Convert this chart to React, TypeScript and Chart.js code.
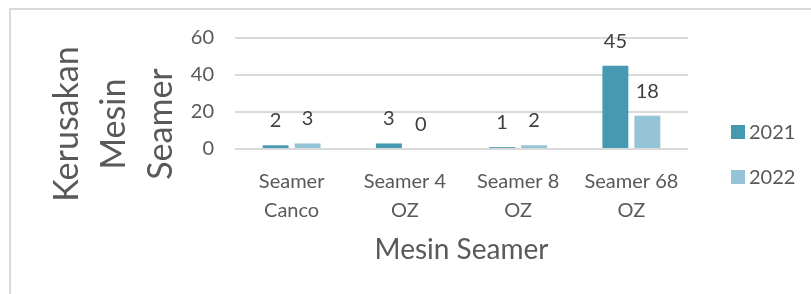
import React, { useEffect, useRef } from "react";
import { Chart, registerables } from "chart.js";

Chart.register(...registerables);

const categories: string[][] = [
  ["Seamer", "Canco"],
  ["Seamer 4", "OZ"],
  ["Seamer 8", "OZ"],
  ["Seamer 68", "OZ"],
];
const seriesNames = ["2021", "2022"];
const values2021 = [2, 3, 1, 45];
const values2022 = [3, 0, 2, 18];
const yTicks = [0, 20, 40, 60];
const yTitleLines = ["Kerusakan", "Mesin", "Seamer"];
const xTitle = "Mesin Seamer";

const COLORS = ["#4599b1", "#94c4d5"];
const FONT = "Lato";

const valueLabels = {
  id: "valueLabels",
  afterDatasetsDraw(chart: any) {
    const ctx = chart.ctx;
    ctx.save();
    ctx.font = `20px ${FONT}`;
    ctx.fillStyle = "#404040";
    ctx.textAlign = "center";
    ctx.textBaseline = "alphabetic";
    chart.data.datasets.forEach((ds: any, i: number) => {
      const meta = chart.getDatasetMeta(i);
      meta.data.forEach((bar: any, j: number) => {
        ctx.fillText(String(ds.data[j]), bar.x, bar.y - 18);
      });
    });
    ctx.restore();
  },
};

const yTitlePlugin = {
  id: "yTitlePlugin",
  afterDraw(chart: any) {
    const ctx = chart.ctx;
    const area = chart.chartArea;
    ctx.save();
    ctx.font = `34px ${FONT}`;
    ctx.fillStyle = "#595959";
    ctx.textAlign = "center";
    ctx.textBaseline = "alphabetic";
    const cy = area.bottom - 25;
    yTitleLines.forEach((line, i) => {
      ctx.save();
      ctx.translate(78 + i * 47, cy);
      ctx.rotate(-Math.PI / 2);
      ctx.fillText(line, 0, 0);
      ctx.restore();
    });
    ctx.restore();
  },
};

const legendPlugin = {
  id: "sideLegend",
  afterDraw(chart: any) {
    const ctx = chart.ctx;
    const area = chart.chartArea;
    ctx.save();
    ctx.font = `20px ${FONT}`;
    ctx.textAlign = "left";
    ctx.textBaseline = "alphabetic";
    chart.data.datasets.forEach((ds: any, i: number) => {
      const x = area.right + 43;
      const y = 125 + i * 45;
      ctx.fillStyle = ds.backgroundColor;
      ctx.fillRect(x, y, 14, 14);
      ctx.fillStyle = "#595959";
      ctx.fillText(ds.label, x + 18, y + 14);
    });
    ctx.restore();
  },
};

export default function App() {
  const ref = useRef<HTMLCanvasElement | null>(null);
  useEffect(() => {
    if (!ref.current) return;
    const chart = new Chart(ref.current, {
      type: "bar",
      data: {
        labels: categories,
        datasets: [
          {
            label: seriesNames[0],
            data: values2021,
            backgroundColor: COLORS[0],
            categoryPercentage: 0.565,
            barPercentage: 0.81,
          },
          {
            label: seriesNames[1],
            data: values2022,
            backgroundColor: COLORS[1],
            categoryPercentage: 0.565,
            barPercentage: 0.81,
          },
        ],
      },
      options: {
        responsive: false,
        animation: false,
        devicePixelRatio: 1,
        layout: { padding: { top: 38, right: 123, bottom: 0, left: 0 } },
        plugins: {
          legend: { display: false },
          tooltip: { enabled: false },
        },
        scales: {
          x: {
            grid: { display: false, drawTicks: false },
            border: { display: false },
            ticks: {
              color: "#595959",
              font: { family: FONT, size: 20, lineHeight: 1.45 },
              padding: 18,
              maxRotation: 0,
              autoSkip: false,
            },
            title: {
              display: true,
              text: xTitle,
              color: "#595959",
              font: { family: FONT, size: 28, lineHeight: 1.2 },
              padding: { top: 0, bottom: 27 },
            },
            afterFit: (s: any) => {
              s.height = 145;
            },
          },
          y: {
            min: 0,
            max: 60,
            afterBuildTicks: (s: any) => {
              s.ticks = yTicks.map((v) => ({ value: v }));
            },
            grid: { color: "#d9d9d9", lineWidth: 2, drawTicks: false },
            border: { display: false },
            ticks: {
              color: "#595959",
              font: { family: FONT, size: 20 },
              padding: 21,
            },
            afterFit: (s: any) => {
              s.width = 235;
            },
          },
        },
      },
      plugins: [valueLabels, yTitlePlugin, legendPlugin],
    });
    return () => chart.destroy();
  }, []);

  return (
    <div style={{ position: "fixed", left: 0, top: 0, width: 811, height: 294, overflow: "hidden", background: "#fff" }}>
      <div
        style={{
          position: "absolute",
          left: 9,
          top: 8,
          width: 900,
          height: 400,
          border: "2px solid #d9d9d9",
          boxSizing: "border-box",
        }}
      />
      <canvas ref={ref} width={811} height={294} style={{ position: "absolute", left: 0, top: 0 }} />
    </div>
  );
}
